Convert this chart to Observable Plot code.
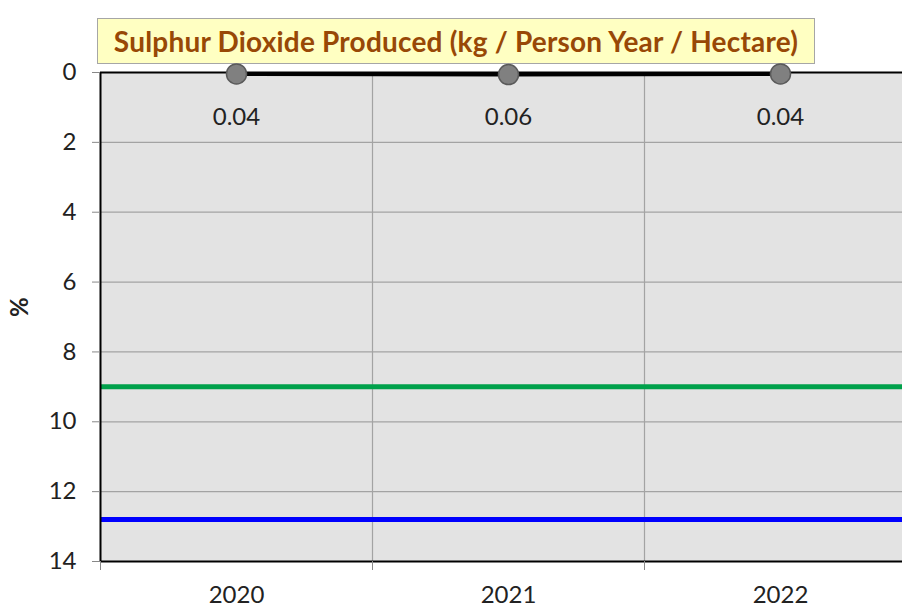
<!DOCTYPE html>
<html>
<head>
<meta charset="utf-8">
<script src="https://cdn.jsdelivr.net/npm/d3@7"></script>
<script src="https://cdn.jsdelivr.net/npm/@observablehq/plot@0.6"></script>
<style>
  html, body { margin: 0; padding: 0; background: #fff; overflow: hidden; }
  #wrap { position: relative; width: 902px; height: 607px; overflow: hidden; }
  #title {
    position: absolute; left: 97px; top: 18px; width: 716px; height: 44px;
    background: #ffffc2; border: 1px solid #a6a6a6;
    color: #984806; font-family: Lato, "Open Sans", sans-serif; font-weight: bold;
    font-size: 28px; line-height: 44px; text-align: center; white-space: nowrap;
    letter-spacing: 0.2px;
  }
  #chart { position: absolute; left: 0; top: 0; }
  #chart svg { background: transparent; overflow: visible; }
</style>
</head>
<body>
<div id="wrap">
  <div id="title">Sulphur Dioxide Produced (kg / Person Year / Hectare)</div>
  <div id="chart"></div>
</div>
<script>
const years = [2020, 2021, 2022];
const values = [0.04, 0.06, 0.04];
const labels = ["0.04", "0.06", "0.04"];
const yTicks = [0, 2, 4, 6, 8, 10, 12, 14];
const greenLevel = [9];
const blueLevel = [12.8];
const yLabel = "%";

const data = years.map((y, i) => ({year: y, value: values[i], label: labels[i]}));
const boundaries = [2019.5, 2020.5, 2021.5];

const chart = Plot.plot({
  width: 902,
  height: 607,
  marginLeft: 100,
  marginRight: 0,
  marginTop: 72,
  marginBottom: 46,
  style: {fontFamily: "Lato, 'Open Sans', sans-serif", fontSize: "24px", color: "#222", background: "transparent"},
  x: {domain: [2019.5, 2022.5], range: [100, 916]},
  y: {domain: [0, 14], reverse: true},
  marks: [
    Plot.frame({fill: "#e3e3e3", stroke: null}),
    Plot.gridY(yTicks, {stroke: "#a3a3a3", strokeOpacity: 1, strokeWidth: 1.2}),
    Plot.gridX([2020.5, 2021.5], {stroke: "#a3a3a3", strokeOpacity: 1, strokeWidth: 1.2}),
    Plot.ruleY(greenLevel, {stroke: "#00a14b", strokeWidth: 5}),
    Plot.ruleY(blueLevel, {stroke: "#0000ff", strokeWidth: 5}),
    Plot.ruleX([2019.5], {stroke: "#000", strokeWidth: 2}),
    Plot.ruleY([0, 14], {stroke: "#000", strokeWidth: 2}),
    Plot.axisY(yTicks, {tickSize: 8, tickPadding: 16, stroke: "#888", fontSize: 24, label: null, tickFormat: d => String(d)}),
    Plot.axisX(boundaries, {tickSize: 9, stroke: "#888", tickFormat: () => "", label: null}),
    Plot.axisX(years, {tickSize: 0, tickPadding: 24, fontSize: 24, label: null, tickFormat: d => String(d)}),
    Plot.text([yLabel], {frameAnchor: "left", dx: -80, rotate: -90, fontWeight: "bold", fontSize: 24, fill: "#222"}),
    Plot.line(data, {x: "year", y: "value", stroke: "#000", strokeWidth: 4}),
    Plot.dot(data, {x: "year", y: "value", r: 10, fill: "#808080", stroke: "#5a5a5a", strokeWidth: 1.5}),
    Plot.text(data, {x: "year", y: "value", text: "label", dy: 43, fontSize: 24, fill: "#222"})
  ]
});
document.getElementById("chart").appendChild(chart);
</script>
</body>
</html>
